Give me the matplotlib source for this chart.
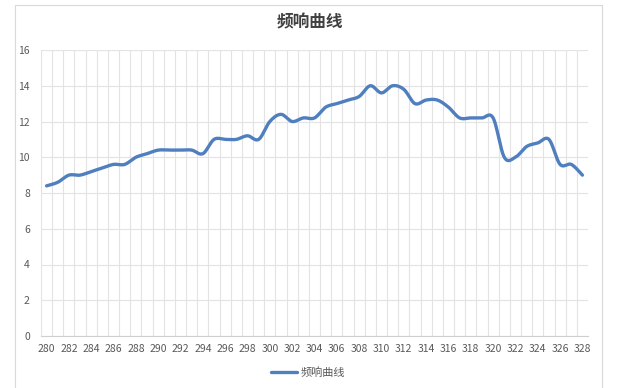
import matplotlib

matplotlib.use("Agg")

import matplotlib.pyplot as plt
import numpy as np
from matplotlib.patches import Rectangle

plt.rcParams["font.family"] = ["Noto Sans CJK SC", "DejaVu Sans"]

# data
freq = list(range(280, 329))
response = [
    8.4, 8.6, 9.0, 9.0, 9.2, 9.4, 9.6, 9.6, 10.0, 10.2,
    10.4, 10.4, 10.4, 10.4, 10.2, 11.0, 11.0, 11.0, 11.2, 11.0,
    12.0, 12.4, 12.0, 12.2, 12.2, 12.8, 13.0, 13.2, 13.4, 14.0,
    13.6, 14.0, 13.8, 13.0, 13.2, 13.2, 12.8, 12.2, 12.2, 12.2,
    12.2, 10.0, 10.0, 10.6, 10.8, 11.0, 9.6, 9.6, 9.0,
]
title = "频响曲线"
series_name = "频响曲线"
y_ticks = list(range(0, 17, 2))
x_ticks = list(range(280, 329, 2))

LINE = "#4f7fbe"
TEXT = "#595959"
GRID = "#e3e3e3"


def smooth(x, y, n=20):
    """Excel-style smoothed line (Catmull-Rom as cubic Bezier)."""
    x = np.asarray(x, float)
    y = np.asarray(y, float)
    px = np.concatenate([[x[0]], x, [x[-1]]])
    py = np.concatenate([[y[0]], y, [y[-1]]])
    xs, ys = [], []
    t = np.linspace(0, 1, n, endpoint=False)
    for i in range(1, len(px) - 2):
        p0 = np.array([px[i], py[i]])
        p3 = np.array([px[i + 1], py[i + 1]])
        c1 = p0 + (np.array([px[i + 1], py[i + 1]]) - np.array([px[i - 1], py[i - 1]])) / 6
        c2 = p3 - (np.array([px[i + 2], py[i + 2]]) - np.array([px[i], py[i]])) / 6
        pts = (((1 - t) ** 3)[:, None] * p0 + (3 * (1 - t) ** 2 * t)[:, None] * c1
               + (3 * (1 - t) * t ** 2)[:, None] * c2 + (t ** 3)[:, None] * p3)
        xs.extend(pts[:, 0])
        ys.extend(pts[:, 1])
    xs.append(x[-1])
    ys.append(y[-1])
    return np.array(xs), np.array(ys)


W, H = 619, 388
fig = plt.figure(figsize=(W / 100, H / 100), dpi=100)
fig.patch.set_facecolor("white")

# chart border
fig.patches.append(Rectangle((15 / W, -0.05), (602 - 15) / W, 1.05 - 5 / H,
                             transform=fig.transFigure, fill=False,
                             edgecolor="#d9d9d9", lw=0.8))

ax = fig.add_axes([41 / W, 1 - 336 / H, (588 - 41) / W, (336 - 50) / H])
sx, sy = smooth(freq, response)
ax.plot(sx, sy, color=LINE, lw=2.4, solid_capstyle="round", label=series_name, zorder=3)

ax.set_xlim(279.5, 328.5)
ax.set_ylim(0, 16)
ax.set_yticks(y_ticks)
ax.set_xticks(x_ticks)
ax.set_xticks(np.arange(279.5, 329, 1), minor=True)
ax.tick_params(axis="both", which="both", length=0, colors=TEXT, labelsize=7.5)
ax.tick_params(axis="x", pad=6)
ax.tick_params(axis="y", pad=8)
ax.grid(True, axis="y", which="major", color=GRID, lw=0.8)
ax.grid(True, axis="x", which="minor", color=GRID, lw=0.8)
for name, sp in ax.spines.items():
    sp.set_visible(name == "bottom")
ax.spines["bottom"].set_color("#cfcfcf")

fig.text(310 / W, 1 - 22 / H, title, ha="center", va="center",
         fontsize=12, fontweight="bold", color="#404040")

fig.legend(loc="center", bbox_to_anchor=(308 / W, 1 - 373 / H), frameon=False,
           fontsize=8, labelcolor=TEXT, handlelength=2.4, handletextpad=0.3)

fig.savefig("out.png", dpi=100, facecolor="white")
